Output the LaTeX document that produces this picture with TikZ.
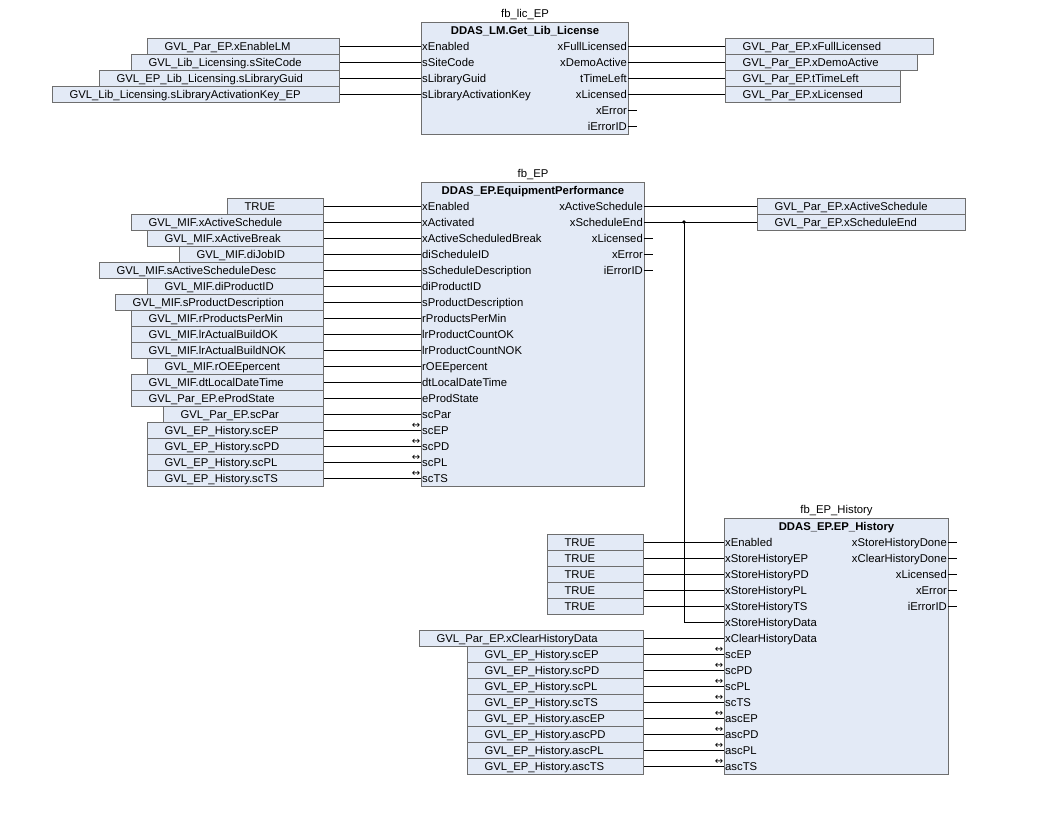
\documentclass[tikz,border=0pt]{standalone}
\usepackage{fontspec}
\setmainfont{Liberation Sans}
\newfontfamily\symfont{DejaVu Sans}
\usepackage{xcolor}
\usepackage{tikz}
\definecolor{boxfill}{HTML}{E3EAF6}
\definecolor{boxline}{HTML}{6E6E6E}
\newcommand{\fbfont}{\fontsize{11.3}{13}\selectfont}
\tikzset{
  fbblock/.style={draw=boxline, fill=boxfill, line width=1pt, inner sep=0pt, anchor=north west},
  varbox/.style={draw=boxline, fill=boxfill, line width=1pt, minimum height=16pt, inner sep=0pt, align=left, font=\fbfont, text height=10pt, text depth=2pt},
  pinlab/.style={font=\fbfont, inner xsep=1pt, inner ysep=0pt, text height=10pt, text depth=2pt},
  fbtype/.style={font=\fbfont\bfseries, inner sep=0pt, text height=10pt, text depth=2pt, anchor=north},
  fbname/.style={font=\fbfont, inner sep=0pt, text height=10pt, text depth=2pt, anchor=south},
  wire/.style={draw=black, line width=1pt},
  iomark/.style={font=\symfont\fontsize{10}{10}\selectfont, inner sep=0pt},
  jdot/.style={circle, fill=black, inner sep=1.3pt},
}

\begin{document}
\begin{tikzpicture}[x=1pt, y=-1pt]
  \useasboundingbox[fill=white] (0,0) rectangle (1042,828);

  % fb_lic_EP
  \node[fbblock, minimum width=207pt, minimum height=112pt] (lic) at (421,22) {};
  \node[fbname] (licname) at ([yshift=2pt]lic.north) {fb\_lic\_EP};
  \node[fbtype] (lictype) at ([yshift=-2pt]lic.north) {DDAS\_LM.Get\_Lib\_License};
  \foreach \lx/\txt/\pin [count=\i] in {
      148/GVL\_Par\_EP.xEnableLM/xEnabled,
      132/GVL\_Lib\_Licensing.sSiteCode/sSiteCode,
      100/GVL\_EP\_Lib\_Licensing.sLibraryGuid/sLibraryGuid,
      53/GVL\_Lib\_Licensing.sLibraryActivationKey\_EP/sLibraryActivationKey}{
    \pgfmathsetmacro{\w}{340-\lx}
    \node[pinlab, anchor=west] (licI\i) at (421,{30+16*\i}) {\pin};
    \node[varbox, anchor=east, text width=\w pt] (licV\i) at (340,{30+16*\i}) {\noindent\hspace*{17pt}\txt};
    \draw[wire] (licV\i.east) -- (licI\i.west);
  }
  \foreach \pin [count=\i] in {xFullLicensed, xDemoActive, tTimeLeft, xLicensed, xError, iErrorID}
    \node[pinlab, anchor=east] (licO\i) at (628,{30+16*\i}) {\pin};
  \foreach \rx/\txt [count=\i] in {
      933/GVL\_Par\_EP.xFullLicensed,
      917/GVL\_Par\_EP.xDemoActive,
      900/GVL\_Par\_EP.tTimeLeft,
      900/GVL\_Par\_EP.xLicensed}{
    \pgfmathsetmacro{\w}{\rx-725}
    \node[varbox, anchor=west, text width=\w pt] (licW\i) at (725,{30+16*\i}) {\noindent\hspace*{17pt}\txt};
    \draw[wire] (licO\i.east) -- (licW\i.west);
  }
  \foreach \i in {5,6}
    \draw[wire] (licO\i.east) -- ++(9,0);

  % fb_EP
  \node[fbblock, minimum width=223pt, minimum height=304pt] (ep) at (421,182) {};
  \node[fbname] (epname) at ([yshift=2pt]ep.north) {fb\_EP};
  \node[fbtype] (eptype) at ([yshift=-2pt]ep.north) {DDAS\_EP.EquipmentPerformance};
  \foreach \lx/\txt/\pin [count=\i] in {
      228/TRUE/xEnabled,
      132/GVL\_MIF.xActiveSchedule/xActivated,
      148/GVL\_MIF.xActiveBreak/xActiveScheduledBreak,
      180/GVL\_MIF.diJobID/diScheduleID,
      100/GVL\_MIF.sActiveScheduleDesc/sScheduleDescription,
      148/GVL\_MIF.diProductID/diProductID,
      116/GVL\_MIF.sProductDescription/sProductDescription,
      132/GVL\_MIF.rProductsPerMin/rProductsPerMin,
      132/GVL\_MIF.lrActualBuildOK/lrProductCountOK,
      132/GVL\_MIF.lrActualBuildNOK/lrProductCountNOK,
      148/GVL\_MIF.rOEEpercent/rOEEpercent,
      132/GVL\_MIF.dtLocalDateTime/dtLocalDateTime,
      132/GVL\_Par\_EP.eProdState/eProdState,
      164/GVL\_Par\_EP.scPar/scPar,
      148/GVL\_EP\_History.scEP/scEP,
      148/GVL\_EP\_History.scPD/scPD,
      148/GVL\_EP\_History.scPL/scPL,
      148/GVL\_EP\_History.scTS/scTS}{
    \pgfmathsetmacro{\w}{324-\lx}
    \node[pinlab, anchor=west] (epI\i) at (421,{190+16*\i}) {\pin};
    \node[varbox, anchor=east, text width=\w pt] (epV\i) at (324,{190+16*\i}) {\noindent\hspace*{17pt}\txt};
    \draw[wire] (epV\i.east) -- (epI\i.west);
  }
  \foreach \i in {15,...,18}
    \node[iomark] (epM\i) at ([shift={(-5,-4)}]epI\i.west) {↔};
  \foreach \pin [count=\i] in {xActiveSchedule, xScheduleEnd, xLicensed, xError, iErrorID}
    \node[pinlab, anchor=east] (epO\i) at (644,{190+16*\i}) {\pin};
  \foreach \txt [count=\i] in {GVL\_Par\_EP.xActiveSchedule, GVL\_Par\_EP.xScheduleEnd}{
    \node[varbox, anchor=west, text width=208pt] (epW\i) at (757,{190+16*\i}) {\noindent\hspace*{17pt}\txt};
    \draw[wire] (epO\i.east) -- (epW\i.west);
  }
  \foreach \i in {3,4,5}
    \draw[wire] (epO\i.east) -- ++(9,0);

  % fb_EP_History
  \node[fbblock, minimum width=224pt, minimum height=256pt] (his) at (724,518) {};
  \node[fbname] (hisname) at ([yshift=2pt]his.north) {fb\_EP\_History};
  \node[fbtype] (histype) at ([yshift=-2pt]his.north) {DDAS\_EP.EP\_History};
  \foreach \pin [count=\i] in {xEnabled, xStoreHistoryEP, xStoreHistoryPD, xStoreHistoryPL,
      xStoreHistoryTS, xStoreHistoryData, xClearHistoryData, scEP, scPD, scPL, scTS,
      ascEP, ascPD, ascPL, ascTS}
    \node[pinlab, anchor=west] (hisI\i) at (724,{526+16*\i}) {\pin};
  \foreach \i/\lx/\txt in {
      1/548/TRUE, 2/548/TRUE, 3/548/TRUE, 4/548/TRUE, 5/548/TRUE,
      7/420/GVL\_Par\_EP.xClearHistoryData,
      8/468/GVL\_EP\_History.scEP,
      9/468/GVL\_EP\_History.scPD,
      10/468/GVL\_EP\_History.scPL,
      11/468/GVL\_EP\_History.scTS,
      12/468/GVL\_EP\_History.ascEP,
      13/468/GVL\_EP\_History.ascPD,
      14/468/GVL\_EP\_History.ascPL,
      15/468/GVL\_EP\_History.ascTS}{
    \pgfmathsetmacro{\w}{644-\lx}
    \node[varbox, anchor=east, text width=\w pt] (hisV\i) at (644,{526+16*\i}) {\noindent\hspace*{17pt}\txt};
    \draw[wire] (hisV\i.east) -- (hisI\i.west);
  }
  \foreach \i in {8,...,15}
    \node[iomark] (hisM\i) at ([shift={(-5,-4)}]hisI\i.west) {↔};
  \foreach \pin [count=\i] in {xStoreHistoryDone, xClearHistoryDone, xLicensed, xError, iErrorID}{
    \node[pinlab, anchor=east] (hisO\i) at (948,{526+16*\i}) {\pin};
    \draw[wire] (hisO\i.east) -- ++(9,0);
  }

  % xScheduleEnd branch
  \coordinate (jn) at ([xshift=40pt]epO2.east);
  \node[jdot] (jdot) at (jn) {};
  \draw[wire] (jn) |- (hisI6.west);
\end{tikzpicture}
\end{document}
